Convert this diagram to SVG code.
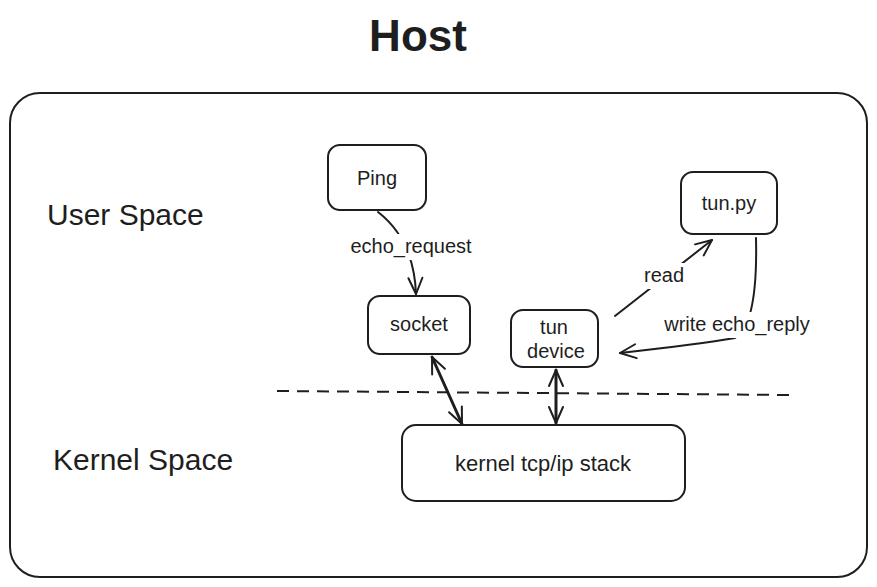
<svg xmlns="http://www.w3.org/2000/svg" width="877" height="587" viewBox="0 0 877 587">
<defs>
<style>
.box{fill:#ffffff;stroke:#1e1e1e;stroke-width:2;}
.t{font-family:"Liberation Sans",Arial,sans-serif;fill:#1e1e1e;font-size:20px;text-anchor:middle;}
.big{font-family:"Liberation Sans",Arial,sans-serif;fill:#1e1e1e;font-size:30px;}
.c{fill:none;stroke:#1e1e1e;stroke-width:2;stroke-linecap:round;stroke-linejoin:round;}
.thick{stroke-width:3;}
.lbl{fill:#ffffff;stroke:none;}
</style>
<marker id="ah" viewBox="0 0 20 20" refX="18" refY="10" markerWidth="20" markerHeight="20" markerUnits="userSpaceOnUse" orient="auto-start-reverse">
<path d="M2,3 L18,10 L2,17" fill="none" stroke="#1e1e1e" stroke-width="2" stroke-linecap="round" stroke-linejoin="round"/>
</marker>
</defs>
<rect width="877" height="587" fill="#ffffff"/>
<text x="418" y="51" style="font-family:'Liberation Sans',Arial,sans-serif;font-size:44px;font-weight:bold;fill:#1e1e1e;" text-anchor="middle">Host</text>
<g id="host">
<rect class="box" x="10" y="93" width="857" height="484" rx="30"/>
</g>
<g id="labels">
<text class="big" x="47" y="225">User Space</text>
<text class="big" x="53" y="470">Kernel Space</text>
<path d="M277,391 L790,395" fill="none" stroke="#1e1e1e" stroke-width="2" stroke-dasharray="12,8"/>
</g>
<g id="connectors">
<path class="c" d="M378,212 Q414,240 416,294" marker-end="url(#ah)"/>
<rect class="lbl" x="343" y="234" width="138" height="26"/>
<text class="t" x="411" y="253">echo_request</text>
<path class="c thick" d="M432,357 L462,424" marker-start="url(#ah)" marker-end="url(#ah)"/>
<path class="c thick" d="M556,370 L556,423" marker-start="url(#ah)" marker-end="url(#ah)"/>
<path class="c" d="M615,316 L712,240" marker-end="url(#ah)"/>
<rect class="lbl" x="640" y="263" width="48" height="26"/>
<text class="t" x="664" y="282">read</text>
<path class="c" d="M756,238 Q758,325 735,338 Q700,344 620,353" marker-end="url(#ah)"/>
<rect class="lbl" x="656" y="312" width="164" height="26"/>
<text class="t" x="737" y="331">write echo_reply</text>
</g>
<g id="ping">
<rect class="box" x="328" y="145" width="98" height="65" rx="12"/>
<text class="t" x="377" y="185">Ping</text>
</g>
<g id="socket">
<rect class="box" x="368" y="296" width="102" height="58" rx="12"/>
<text class="t" x="419" y="331">socket</text>
</g>
<g id="tundevice">
<rect class="box" x="511" y="310" width="87" height="57" rx="12"/>
<text class="t" x="554" y="334">tun</text>
<text class="t" x="556" y="358">device</text>
</g>
<g id="tunpy">
<rect class="box" x="681" y="172" width="96" height="62" rx="12"/>
<text class="t" x="729" y="210">tun.py</text>
</g>
<g id="kernel">
<rect class="box" x="402" y="425" width="283" height="76" rx="14"/>
<text class="t" x="543" y="471" style="font-size:22px">kernel tcp/ip stack</text>
</g>
</svg>
